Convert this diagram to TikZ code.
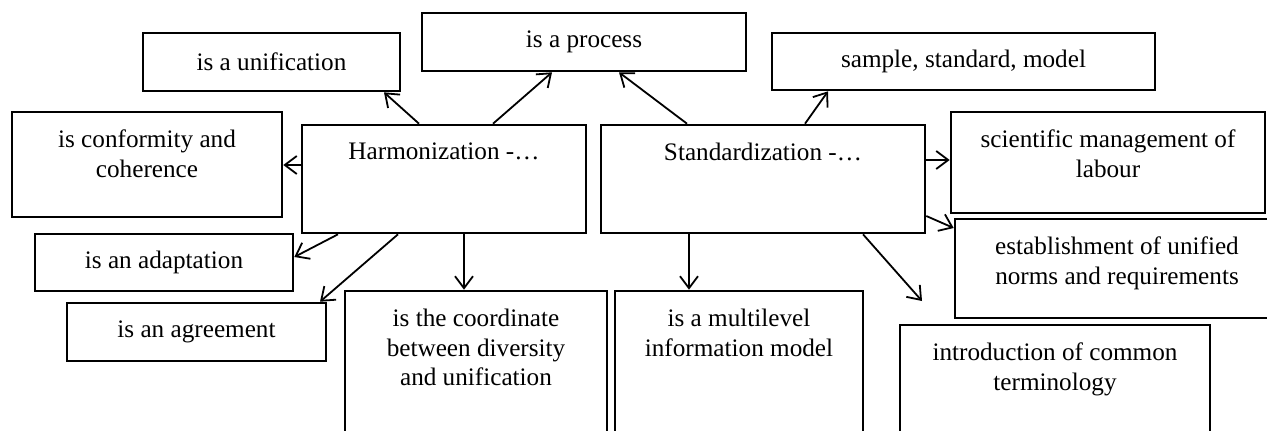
\documentclass[tikz,border=0pt]{standalone}
\usepackage{fontspec}
\setmainfont{Liberation Serif}
\usetikzlibrary{arrows.meta, positioning, fit}
\tikzset{
  concept/.style={draw, line width=1.3pt, inner sep=0pt},
  conceptlabel/.style={inner sep=0pt, align=center, font=\fontsize{12.6}{14.8}\selectfont},
  link/.style={line width=0.9pt, -{Straight Barb[length=6pt, width=9pt]}}
}

\begin{document}
\begin{tikzpicture}[x=0.5pt, y=-0.5pt]
  \path[use as bounding box, clip] (0,0) rectangle (1267,430);
%% the two main boxes
  \node[concept, fit={(302,125) (586,233)}] (harm) {};
  \node[conceptlabel, below=9.5pt of harm.north] (harmtext) {Harmonization -…};
  \node[concept, fit={(601,125) (925,233)}] (stand) {};
  \node[conceptlabel, below=9.5pt of stand.north] (standtext) {Standardization -…};
%% top row
  \node[concept, fit={(143,33) (400,91)}] (unif) {};
  \node[conceptlabel] (uniftext) at (unif) {is a unification};
  \node[concept, fit={(422,13) (746,71)}] (proc) {};
  \node[conceptlabel] (proctext) at (proc) {is a process};
  \node[concept, fit={(772,33) (1155,90)}] (sample) {};
  \node[conceptlabel] (sampletext) at (sample) {sample, standard, model};
%% left side
  \node[concept, fit={(12,112) (282,217)}] (conf) {};
  \node[conceptlabel, below=9.5pt of conf.north] (conftext) {is conformity and\\coherence};
  \node[concept, fit={(35,234) (293,291)}] (adapt) {};
  \node[conceptlabel] (adapttext) at (adapt) {is an adaptation};
  \node[concept, fit={(67,303) (326,361)}] (agree) {};
  \node[conceptlabel] (agreetext) at (agree) {is an agreement};
%% bottom row
  \node[concept, fit={(345,291) (607,440)}] (coord) {};
  \node[conceptlabel, below=9.5pt of coord.north] (coordtext) {is the coordinate\\between diversity\\and unification};
  \node[concept, fit={(615,291) (863,440)}] (multi) {};
  \node[conceptlabel, below=9.5pt of multi.north] (multitext) {is a multilevel\\information model};
  \node[concept, fit={(900,325) (1210,440)}] (intro) {};
  \node[conceptlabel, below=9.5pt of intro.north] (introtext) {introduction of common\\terminology};
%% right side
  \node[concept, fit={(951,112) (1265,213)}] (sci) {};
  \node[conceptlabel, below=9.5pt of sci.north] (scitext) {scientific management of\\labour};
  \node[concept, fit={(955,219) (1279,318)}] (estab) {};
  \node[conceptlabel, below=9.5pt of estab.north] (estabtext) {establishment of unified\\norms and requirements};
  \coordinate (introtip) at (922,301);
%% arrows from Harmonization
  \draw[link] (419,0 |- harm.north) -- (384,0 |- unif.south);
  \draw[link] (493,0 |- harm.north) -- (552,0 |- proc.south);
  \draw[link] (harm.west |- 0,165) -- (conf.east |- 0,165);
  \draw[link] (338,0 |- harm.south) -- (adapt.east |- 0,257);
  \draw[link] (398,0 |- harm.south) -- (320,0 |- agree.north);
  \draw[link] (464,0 |- harm.south) -- (464,0 |- coord.north);
%% arrows from Standardization
  \draw[link] (687,0 |- stand.north) -- (619,0 |- proc.south);
  \draw[link] (805,0 |- stand.north) -- (828,0 |- sample.south);
  \draw[link] (stand.east |- 0,160) -- (sci.west |- 0,160);
  \draw[link] (stand.east |- 0,216) -- (estab.west |- 0,228);
  \draw[link] (863,0 |- stand.south) -- (introtip);
  \draw[link] (689,0 |- stand.south) -- (689,0 |- multi.north);
\end{tikzpicture}
\end{document}
